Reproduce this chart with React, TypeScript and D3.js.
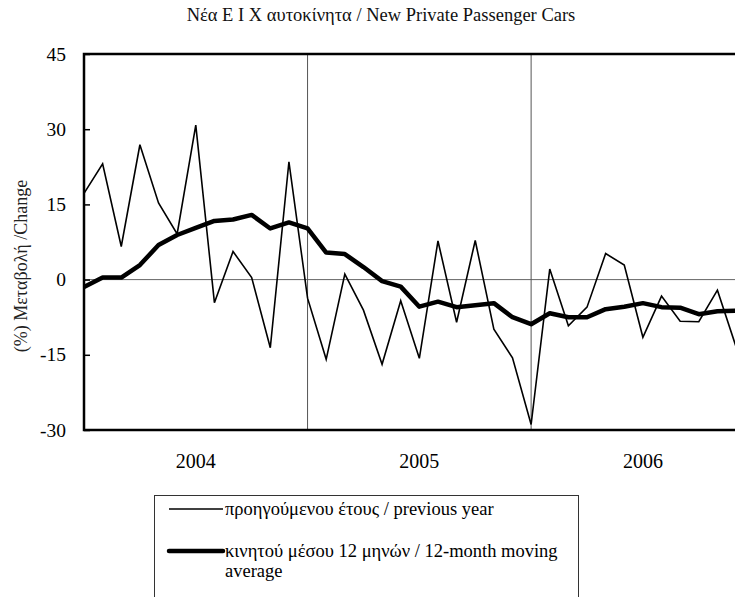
import { useEffect, useRef } from 'react';
import * as d3 from 'd3';

const width = 735;
const height = 597;
const [mt, ml] = [54, 84];
const plotBottom = 430;
const monthStep = 18.63;

// months Jan 2004 .. Dec 2006
const months: string[] = [];
['2004', '2005', '2006'].forEach((y) => {
    for (let m = 1; m <= 12; m++) months.push(`${y}-${String(m).padStart(2, '0')}`);
});

const yearLabels = ['2004', '2005', '2006'];
const yTicks = [45, 30, 15, 0, -15, -30];

// % change on same month previous year
const prevYear = [
    17.2, 23.1, 6.6, 26.9, 15.3, 9.1, 30.8, -4.6, 5.6, 0.4, -13.6, 23.5,
    -3.7, -15.9, 1.1, -6.1, -16.9, -4.2, -15.7, 7.7, -8.5, 7.8, -9.9, -15.6,
    -28.9, 2.1, -9.2, -5.5, 5.2, 2.9, -11.5, -3.3, -8.3, -8.4, -2.1, -13.4
];

// 12-month moving average
const movingAvg = [
    -1.5, 0.4, 0.4, 2.9, 6.9, 8.9, 10.3, 11.7, 12.0, 12.9, 10.2, 11.4,
    10.2, 5.4, 5.1, 2.5, -0.3, -1.4, -5.4, -4.4, -5.5, -5.1, -4.7, -7.5,
    -8.9, -6.7, -7.5, -7.5, -5.9, -5.4, -4.7, -5.5, -5.6, -6.9, -6.3, -6.2
];

const serif = "'Liberation Serif', 'Times New Roman', serif";

export default function App() {
    const ref = useRef<HTMLDivElement>(null);

    useEffect(() => {
        const root = d3.select(ref.current);
        root.selectAll('*').remove();

        const svg = root
            .append('svg')
            .attr('width', width)
            .attr('height', height)
            .attr('viewBox', [0, 0, width, height].join(' '))
            .style('position', 'absolute')
            .style('left', 0)
            .style('top', 0)
            .style('background', '#fff')
            .style('font-family', serif);

        const xScale = d3
            .scaleLinear()
            .domain([0, months.length])
            .range([ml, ml + months.length * monthStep]);

        const yScale = d3.scaleLinear().domain([-30, 45]).range([plotBottom, mt]);

        // title
        svg.append('text')
            .attr('x', 381)
            .attr('y', 21)
            .attr('text-anchor', 'middle')
            .attr('font-size', 18.5)
            .attr('fill', '#111')
            .text('Νέα Ε Ι Χ αυτοκίνητα / New Private Passenger Cars');

        // zero line
        svg.append('line')
            .attr('x1', xScale(0))
            .attr('x2', xScale(months.length))
            .attr('y1', yScale(0))
            .attr('y2', yScale(0))
            .attr('stroke', '#666')
            .attr('stroke-width', 1);

        // year separators
        svg.selectAll('line.year')
            .data([12, 24])
            .join('line')
            .attr('class', 'year')
            .attr('x1', (d) => xScale(d))
            .attr('x2', (d) => xScale(d))
            .attr('y1', yScale(45))
            .attr('y2', yScale(-30))
            .attr('stroke', '#555')
            .attr('stroke-width', 1);

        // y axis ticks (inside) + labels
        const yAxis = d3
            .axisRight(yScale)
            .tickValues(yTicks)
            .tickSize(6)
            .tickFormat(() => '');
        svg.append('g')
            .attr('transform', `translate(${ml},0)`)
            .call(yAxis)
            .call((g) => g.select('.domain').remove())
            .call((g) => g.selectAll('.tick line').attr('stroke', '#000').attr('stroke-width', 1.5));

        svg.selectAll('text.ytick')
            .data(yTicks)
            .join('text')
            .attr('class', 'ytick')
            .attr('x', 66)
            .attr('y', (d) => yScale(d) + 6.5)
            .attr('text-anchor', 'end')
            .attr('font-size', 19.5)
            .text((d) => String(d));

        // y axis title
        svg.append('text')
            .attr('transform', `translate(27,${266}) rotate(-90)`)
            .attr('text-anchor', 'middle')
            .attr('font-size', 18)
            .attr('fill', '#222')
            .text('(%) Μεταβολή /Change');

        // year labels
        svg.selectAll('text.year')
            .data(yearLabels)
            .join('text')
            .attr('class', 'year')
            .attr('x', (_d, i) => xScale(i * 12 + 6))
            .attr('y', 468)
            .attr('text-anchor', 'middle')
            .attr('font-size', 20)
            .text((d) => d);

        // lines
        const line = d3
            .line<number>()
            .x((_d, i) => xScale(i))
            .y((d) => yScale(d));

        svg.append('path')
            .attr('d', line(prevYear))
            .attr('fill', 'none')
            .attr('stroke', '#000')
            .attr('stroke-width', 1.6)
            .attr('stroke-linejoin', 'miter');

        svg.append('path')
            .attr('d', line(movingAvg))
            .attr('fill', 'none')
            .attr('stroke', '#000')
            .attr('stroke-width', 4.5)
            .attr('stroke-linejoin', 'round');

        // frame: top, left, bottom
        svg.append('path')
            .attr(
                'd',
                `M${xScale(months.length)},${yScale(45)}H${ml}V${yScale(-30)}H${xScale(months.length)}`
            )
            .attr('fill', 'none')
            .attr('stroke', '#000')
            .attr('stroke-width', 2.5);

        // legend
        const legend = svg.append('g');
        legend.append('rect')
            .attr('x', 154.5)
            .attr('y', 495.5)
            .attr('width', 424)
            .attr('height', 120)
            .attr('fill', '#fff')
            .attr('stroke', '#333')
            .attr('stroke-width', 1);

        legend.append('line')
            .attr('x1', 169)
            .attr('x2', 223)
            .attr('y1', 509)
            .attr('y2', 509)
            .attr('stroke', '#000')
            .attr('stroke-width', 1.6);
        legend.append('text')
            .attr('x', 225)
            .attr('y', 515)
            .attr('font-size', 18.5)
            .text('προηγούμενου έτους / previous year');

        legend.append('line')
            .attr('x1', 169)
            .attr('x2', 223)
            .attr('y1', 551)
            .attr('y2', 551)
            .attr('stroke', '#000')
            .attr('stroke-width', 4.5)
            .attr('stroke-linecap', 'round');
        legend.append('text')
            .attr('x', 225)
            .attr('y', 557)
            .attr('font-size', 18.5)
            .text('κινητού μέσου 12 μηνών / 12-month moving');
        legend.append('text')
            .attr('x', 225)
            .attr('y', 577)
            .attr('font-size', 18.5)
            .text('average');
    }, []);

    return <div ref={ref} />;
}
